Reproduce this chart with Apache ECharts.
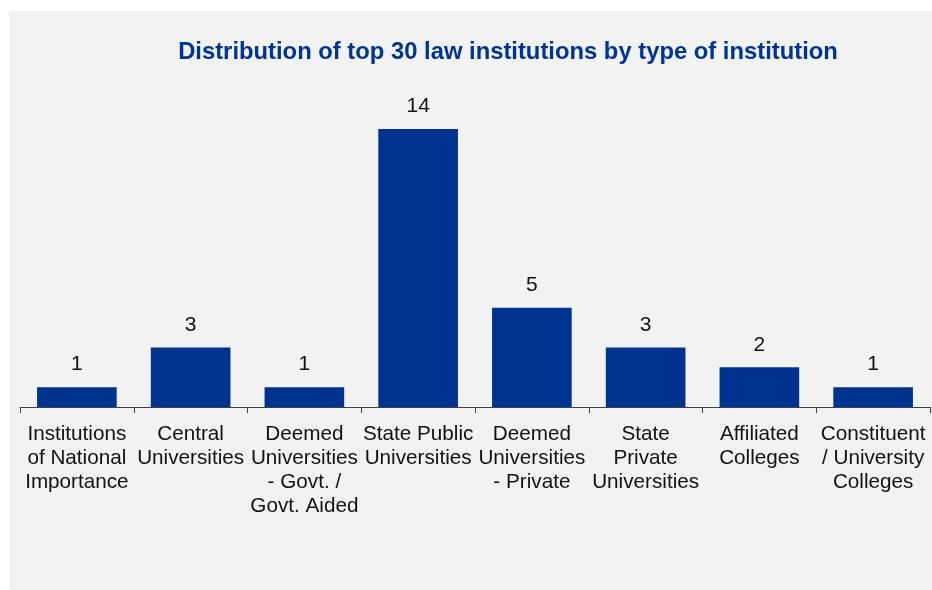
<!DOCTYPE html>
<html>
<head>
<meta charset="utf-8">
<script src="https://cdn.jsdelivr.net/npm/echarts@6/dist/echarts.min.js"></script>
<style>
html,body{margin:0;padding:0;background:#fff;}
#c{width:932px;height:590px;}
</style>
</head>
<body>
<div id="c"></div>
<script>
const titleText = "Distribution of top 30 law institutions by type of institution";
const categories = [
  "Institutions\nof National\nImportance",
  "Central\nUniversities",
  "Deemed\nUniversities\n- Govt. /\nGovt. Aided",
  "State Public\nUniversities",
  "Deemed\nUniversities\n- Private",
  "State\nPrivate\nUniversities",
  "Affiliated\nColleges",
  "Constituent\n/ University\nColleges"
];
const counts = [1, 3, 1, 14, 5, 3, 2, 1];

const chart = echarts.init(document.getElementById('c'), null, {renderer: 'canvas'});
chart.setOption({
  backgroundColor: '#ffffff',
  animation: false,
  graphic: [{
    type: 'rect', left: 9, top: 11, z: -10, silent: true,
    shape: {width: 923, height: 579},
    style: {fill: '#f2f2f2'}
  }],
  title: {
    text: titleText,
    left: 503, top: 35, textAlign: 'center',
    textStyle: {fontFamily: 'Liberation Sans, Arial, sans-serif', fontSize: 23.8, fontWeight: 'bold', color: '#003399'}
  },
  grid: {left: 20, right: 2, top: 129, bottom: 183, containLabel: false},
  xAxis: {
    type: 'category',
    data: categories,
    boundaryGap: true,
    axisLine: {show: true, lineStyle: {color: '#404040', width: 1}},
    axisTick: {show: true, alignWithLabel: false, length: 6, lineStyle: {color: '#404040'}},
    axisLabel: {
      interval: 0, margin: 15,
      fontFamily: 'Liberation Sans, Arial, sans-serif', fontSize: 20.7, color: '#111111',
      lineHeight: 24, align: 'center'
    }
  },
  yAxis: {
    type: 'value', min: 0, max: 14, show: false,
    splitLine: {show: false}
  },
  series: [{
    type: 'bar',
    data: counts,
    barCategoryGap: '30%',
    itemStyle: {color: '#00338f'},
    label: {
      show: true, position: 'top', distance: 12,
      fontFamily: 'Liberation Sans, Arial, sans-serif', fontSize: 21, color: '#111111'
    }
  }]
});
</script>
</body>
</html>
